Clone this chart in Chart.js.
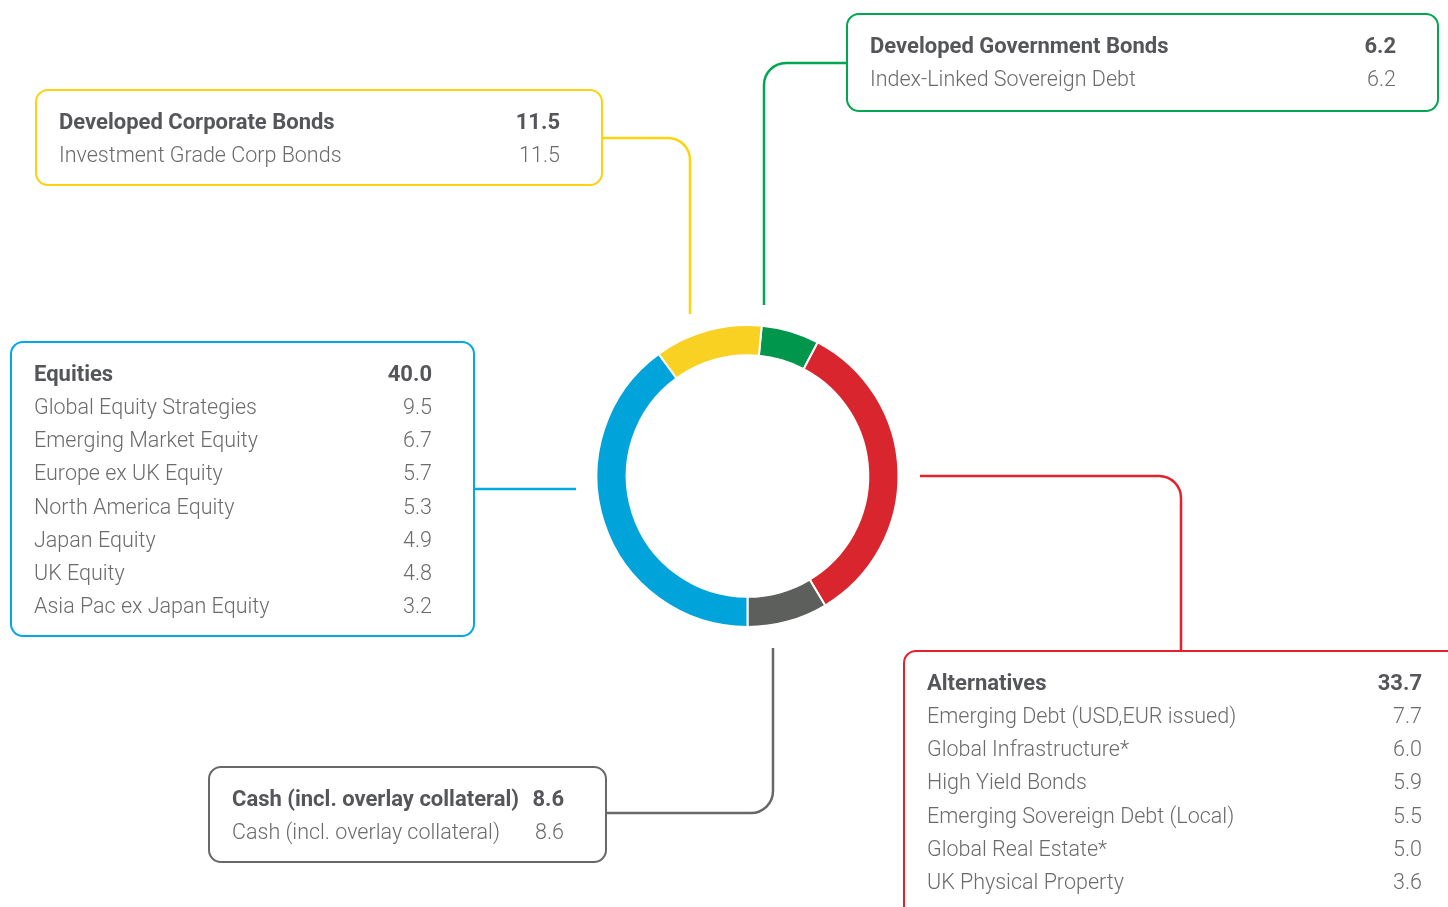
<!DOCTYPE html>
<html>
<head>
<meta charset="utf-8">
<script src="https://cdn.jsdelivr.net/npm/chart.js@4.4.1/dist/chart.umd.min.js"></script>
<style>
  html, body { margin: 0; padding: 0; background: #fff; }
  body { width: 1448px; height: 907px; overflow: hidden; position: relative; font-family: Roboto, "Noto Sans", sans-serif; }
  #wrap { position: absolute; left: 0; top: 0; width: 1448px; height: 907px; }
  .box { position: absolute; box-sizing: border-box; border: 2.5px solid; border-radius: 13px; padding: 14px 41px 0 22px; background: transparent; }
  .row { display: flex; justify-content: space-between; height: 33.15px; line-height: 33.15px; font-size: 21.5px; font-weight: 300; color: #6a6b6d; white-space: nowrap; }
  .row.head { font-weight: 700; font-size: 22px; letter-spacing: 0; color: #55565a; }
  .row .v { text-align: right; padding-left: 10px; }
</style>
</head>
<body>
<div id="wrap"><canvas id="donut"></canvas></div>
<script>
// ---- data ----
const groups = ["Developed Government Bonds", "Alternatives", "Cash (incl. overlay collateral)", "Equities", "Developed Corporate Bonds"];
const groupValues = [6.2, 33.7, 8.6, 40.0, 11.5];
const groupColors = ["#00964b", "#d9262e", "#5c5f5b", "#00a4da", "#f9d123"];
const lineColors = ["#00a651", "#e5202a", "#67686a", "#00a9e2", "#fdd20e"];

const govItems = ["Index-Linked Sovereign Debt"];
const govValues = [6.2];
const altItems = ["Emerging Debt (USD,EUR issued)", "Global Infrastructure*", "High Yield Bonds", "Emerging Sovereign Debt (Local)", "Global Real Estate*", "UK Physical Property"];
const altValues = [7.7, 6.0, 5.9, 5.5, 5.0, 3.6];
const cashItems = ["Cash (incl. overlay collateral)"];
const cashValues = [8.6];
const eqItems = ["Global Equity Strategies", "Emerging Market Equity", "Europe ex UK Equity", "North America Equity", "Japan Equity", "UK Equity", "Asia Pac ex Japan Equity"];
const eqValues = [9.5, 6.7, 5.7, 5.3, 4.9, 4.8, 3.2];
const corpItems = ["Investment Grade Corp Bonds"];
const corpValues = [11.5];

const subItems = [govItems, altItems, cashItems, eqItems, corpItems];
const subValues = [govValues, altValues, cashValues, eqValues, corpValues];

// ---- layout (box positions and leader lines) ----
const boxLayout = [
  { left: 846, top: 13, width: 593, height: 99 },
  { left: 903, top: 650, width: 562, height: 270 },
  { left: 208, top: 766, width: 399, height: 97 },
  { left: 10, top: 341, width: 465, height: 296 },
  { left: 35, top: 89, width: 568, height: 97 }
];
const leaders = [
  [[846, 63], [764, 63], [764, 305]],
  [[920, 476], [1181, 476], [1181, 650]],
  [[606, 813], [773, 813], [773, 648]],
  [[474, 489], [576, 489]],
  [[602, 138], [690, 138], [690, 314]]
];

const fmt = (v) => v.toFixed(1);

groups.forEach((g, i) => {
  const b = document.createElement("div");
  const L = boxLayout[i];
  b.className = "box";
  b.style.left = L.left + "px";
  b.style.top = L.top + "px";
  b.style.width = L.width + "px";
  b.style.height = L.height + "px";
  b.style.borderColor = lineColors[i];
  let html = '<div class="row head"><span>' + g + '</span><span class="v">' + fmt(groupValues[i]) + "</span></div>";
  subItems[i].forEach((s, j) => {
    html += '<div class="row"><span>' + s + '</span><span class="v">' + fmt(subValues[i][j]) + "</span></div>";
  });
  b.innerHTML = html;
  document.body.appendChild(b);
});

const leaderPlugin = {
  id: "leaders",
  afterDraw(chart) {
    const ctx = chart.ctx;
    ctx.save();
    ctx.lineWidth = 2.5;
    leaders.forEach((pts, i) => {
      ctx.strokeStyle = lineColors[i];
      ctx.beginPath();
      ctx.moveTo(pts[0][0], pts[0][1]);
      for (let k = 1; k < pts.length - 1; k++) {
        ctx.arcTo(pts[k][0], pts[k][1], pts[k + 1][0], pts[k + 1][1], 22);
      }
      const last = pts[pts.length - 1];
      ctx.lineTo(last[0], last[1]);
      ctx.stroke();
    });
    ctx.restore();
  },
};

new Chart(document.getElementById("donut"), {
  type: "doughnut",
  data: {
    labels: groups,
    datasets: [
      {
        data: groupValues,
        backgroundColor: groupColors,
        borderColor: "#ffffff",
        borderWidth: 2,
      },
    ],
  },
  options: {
    responsive: true,
    maintainAspectRatio: false,
    animation: false,
    radius: 151,
    cutout: "80%",
    rotation: 5.4,
    layout: { padding: { left: 47, right: 0, top: 45, bottom: 0 } },
    plugins: {
      legend: { display: false },
      tooltip: { enabled: false },
    },
  },
  plugins: [leaderPlugin],
});
</script>
</body>
</html>
